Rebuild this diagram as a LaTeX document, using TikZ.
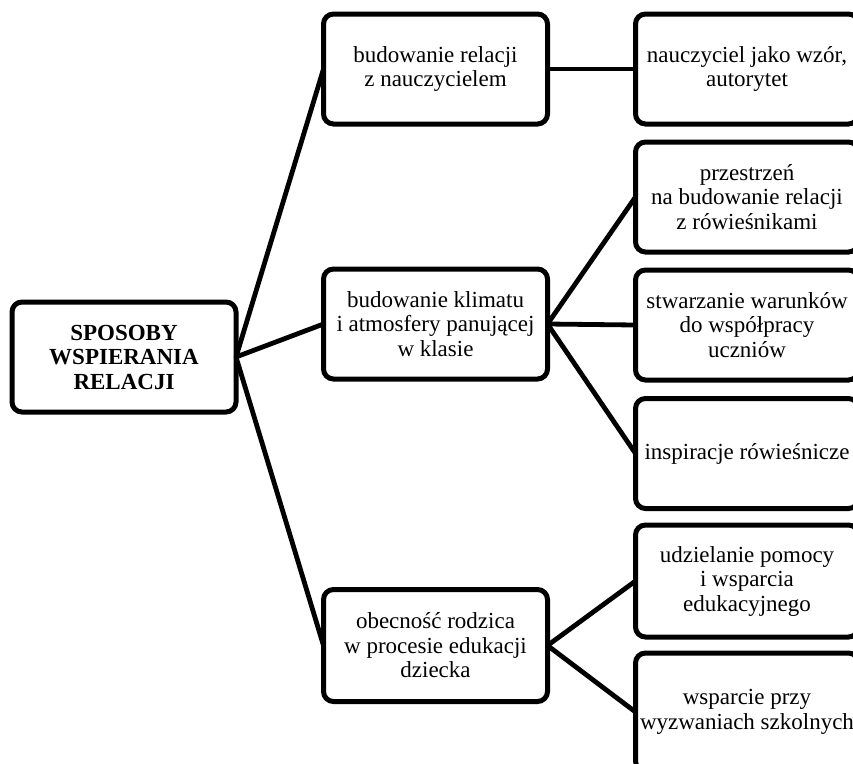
\documentclass[tikz,border=0pt]{standalone}
\usepackage{fontspec}
\setmainfont{Liberation Serif}
\begin{document}
\begin{tikzpicture}[x=1pt,y=-1pt,
  box/.style={draw=black, rectangle, rounded corners=10pt, line width=5pt,
    inner sep=0pt, outer sep=0pt, align=center,
    font=\fontsize{23}{24.5}\selectfont, minimum height=110pt},
  midbox/.style={box, minimum width=224pt},
  rbox/.style={box, minimum width=223pt},
  link/.style={line width=4.8pt, draw=black}]
\useasboundingbox (0,0) rectangle (853,763);
\clip (0,0) rectangle (853,763);

\node[box, minimum width=224pt, font=\fontsize{23}{24.5}\selectfont\bfseries] (root) at (124,357) {SPOSOBY\\WSPIERANIA\\RELACJI};

\node[midbox] (m1) at (435.5,69) {budowanie relacji\\z nauczycielem};
\node[midbox] (m2) at (435.5,324) {budowanie klimatu\\i atmosfery panującej\\w klasie};
\node[midbox, minimum height=112pt] (m3) at (435.5,645.5) {obecność rodzica\\w procesie edukacji\\dziecka};

\node[rbox] (r1) at (747,69) {nauczyciel jako wzór,\\autorytet};
\node[rbox] (r2) at (747,197) {przestrzeń\\na budowanie relacji\\z rówieśnikami};
\node[rbox] (r3) at (747,325) {stwarzanie warunków\\do współpracy\\uczniów};
\node[rbox] (r4) at (747,453.5) {inspiracje rówieśnicze};
\node[rbox, minimum height=112pt] (r5) at (747,581) {udzielanie pomocy\\i wsparcia\\edukacyjnego};
\node[rbox, minimum height=118pt] (r6) at (747,712) {wsparcie przy\\wyzwaniach szkolnych};

\draw[link] (root.east) -- (m1.west);
\draw[link] (root.east) -- (m2.west);
\draw[link] (root.east) -- (m3.west);
\draw[link] (m1.east) -- (r1.west);
\draw[link] (m2.east) -- (r2.west);
\draw[link] (m2.east) -- (r3.west);
\draw[link] (m2.east) -- (r4.west);
\draw[link] (m3.east) -- (r5.west);
\draw[link] (m3.east) -- (r6.west);
\end{tikzpicture}
\end{document}
